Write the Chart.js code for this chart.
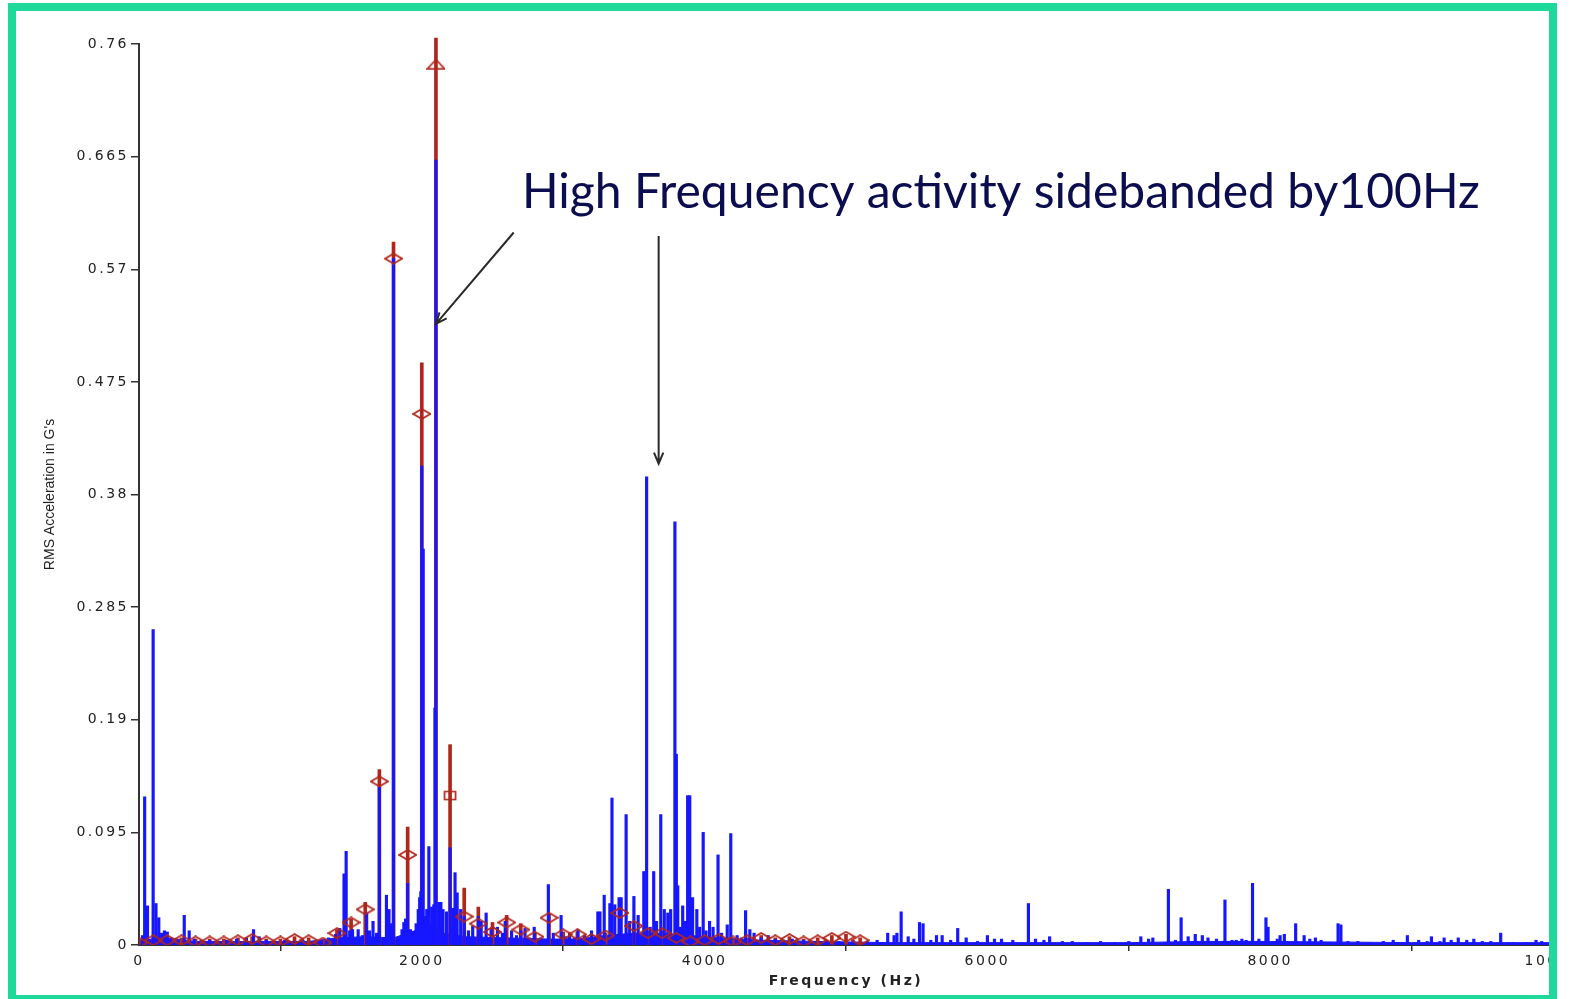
<!DOCTYPE html>
<html>
<head>
<meta charset="utf-8">
<title>RMS Acceleration spectrum</title>
<script src="https://cdn.jsdelivr.net/npm/chart.js@4.4.1/dist/chart.umd.min.js"></script>
<style>
    html, body { margin: 0; padding: 0; background: #fff; overflow: hidden; }
    body { width: 1571px; height: 999px; position: relative; }
    #chart { position: absolute; left: 0; top: 0; }
    #frame {
        position: absolute; left: 8px; top: 3px; width: 1549px; height: 1000px;
        box-sizing: border-box; border: 8px solid #1fd99a; pointer-events: none;
    }
    #rightMask { position: absolute; left: 1557px; top: 0; width: 20px; height: 999px; background: #fff; }
</style>
</head>
<body>
<canvas id="chart" width="1620" height="999"></canvas>
<div id="rightMask"></div>
<div id="frame"></div>
<script>
// axis ticks
const yTicks = [0, 0.095, 0.19, 0.285, 0.38, 0.475, 0.57, 0.665, 0.76];
const yTickLabels = ["0", "0.095", "0.19", "0.285", "0.38", "0.475", "0.57", "0.665", "0.76"];
const xTicks = [0, 2000, 4000, 6000, 8000, 10000];
const xTickLabels = ["0", "2000", "4000", "6000", "8000", "10000"];

// blue spectrum lines (Hz, G rms)
const blueFreqs = [
    25, 40, 60, 100, 120, 140, 160, 180, 200, 230, 260, 320, 355, 390, 440, 500, 560, 620, 690, 760,
    810, 850, 900, 960, 1030, 1090, 1160, 1230, 1290, 1340, 1390, 1420, 1450, 1465, 1490, 1510, 1550, 1580, 1610, 1630,
    1655, 1680, 1700, 1750, 1768, 1785, 1800, 1840, 1860, 1873, 1885, 1900, 1920, 1960, 1975, 1985, 1993, 2000, 2010, 2020,
    2035, 2050, 2070, 2085, 2093, 2100, 2120, 2135, 2150, 2175, 2200, 2220, 2235, 2250, 2275, 2300, 2330, 2360, 2400, 2420,
    2455, 2490, 2535, 2570, 2590, 2635, 2670, 2700, 2730, 2760, 2795, 2840, 2895, 2930, 2985, 3020, 3045, 3080, 3105, 3150,
    3200, 3245, 3260, 3290, 3330, 3345, 3365, 3395, 3410, 3445, 3470, 3500, 3530, 3570, 3590, 3615, 3640, 3660, 3690, 3715,
    3740, 3760, 3790, 3800, 3810, 3830, 3845, 3865, 3880, 3895, 3915, 3945, 3965, 3990, 4010, 4035, 4060, 4095, 4120, 4160,
    4185, 4230, 4260, 4290, 4320, 4350, 4400, 4450, 4500, 4560, 4620, 4700, 4780, 4860, 4950, 5050, 5150, 5220, 5295, 5340,
    5360, 5390, 5440, 5480, 5520, 5545, 5600, 5640, 5680, 5740, 5790, 5850, 5930, 6000, 6050, 6100, 6180, 6290, 6340, 6400,
    6440, 6530, 6600, 6700, 6800, 6900, 7000, 7085, 7140, 7170, 7280, 7330, 7370, 7420, 7470, 7520, 7560, 7620, 7680, 7730,
    7760, 7800, 7830, 7875, 7920, 7970, 7985, 8050, 8070, 8100, 8180, 8240, 8280, 8320, 8360, 8480, 8500, 8550, 8620, 8700,
    8800, 8870, 8970, 9050, 9110, 9140, 9200, 9230, 9280, 9330, 9390, 9440, 9500, 9560, 9630, 9690, 9720, 9810, 9880, 9920
];
const blueAmps = [
    0.008, 0.125, 0.033, 0.266, 0.035, 0.023, 0.010, 0.012, 0.011, 0.006, 0.005, 0.025, 0.012, 0.005, 0.004, 0.004, 0.003, 0.004, 0.005, 0.006,
    0.013, 0.007, 0.004, 0.003, 0.004, 0.003, 0.004, 0.003, 0.004, 0.006, 0.009, 0.014, 0.060, 0.079, 0.012, 0.013, 0.013, 0.008, 0.027, 0.012,
    0.020, 0.010, 0.133, 0.042, 0.030, 0.018, 0.579, 0.004, 0.013, 0.019, 0.022, 0.052, 0.013, 0.018, 0.030, 0.040, 0.045, 0.404, 0.334, 0.024,
    0.030, 0.083, 0.032, 0.034, 0.200, 0.662, 0.036, 0.036, 0.030, 0.028, 0.082, 0.031, 0.061, 0.044, 0.030, 0.024, 0.012, 0.016, 0.024, 0.020,
    0.027, 0.013, 0.015, 0.010, 0.020, 0.012, 0.008, 0.012, 0.014, 0.006, 0.015, 0.006, 0.051, 0.010, 0.025, 0.007, 0.010, 0.006, 0.013, 0.008,
    0.012, 0.028, 0.028, 0.042, 0.035, 0.124, 0.034, 0.040, 0.040, 0.110, 0.020, 0.041, 0.025, 0.062, 0.395, 0.015, 0.062, 0.020, 0.110, 0.030,
    0.027, 0.030, 0.357, 0.161, 0.050, 0.015, 0.033, 0.020, 0.126, 0.126, 0.040, 0.030, 0.015, 0.095, 0.012, 0.020, 0.015, 0.076, 0.010, 0.017,
    0.094, 0.008, 0.006, 0.029, 0.013, 0.010, 0.006, 0.008, 0.005, 0.004, 0.005, 0.004, 0.003, 0.004, 0.003, 0.004, 0.003, 0.004, 0.010, 0.008,
    0.010, 0.028, 0.007, 0.005, 0.019, 0.018, 0.004, 0.008, 0.008, 0.004, 0.014, 0.006, 0.003, 0.008, 0.005, 0.005, 0.004, 0.035, 0.005, 0.004,
    0.007, 0.003, 0.003, 0.002, 0.003, 0.002, 0.003, 0.007, 0.005, 0.006, 0.047, 0.004, 0.023, 0.007, 0.009, 0.008, 0.006, 0.005, 0.038, 0.004,
    0.004, 0.005, 0.004, 0.052, 0.005, 0.023, 0.015, 0.005, 0.008, 0.009, 0.018, 0.008, 0.005, 0.006, 0.004, 0.018, 0.017, 0.003, 0.003, 0.002,
    0.003, 0.004, 0.008, 0.004, 0.003, 0.007, 0.003, 0.006, 0.004, 0.006, 0.004, 0.005, 0.003, 0.003, 0.010, 0.002, 0.002, 0.002, 0.004, 0.003
];

// broadband floor under the lines
const noiseFreqs = [0, 200, 400, 800, 1200, 1400, 1600, 1800, 1950, 2000, 2100, 2150, 2300, 2600, 2900, 3100, 3300, 3500, 3700, 3900, 4100, 4400, 4800, 5300, 6000, 7000, 7500, 8000, 9000, 10000];
const noiseLevels = [0.004, 0.006, 0.003, 0.003, 0.003, 0.006, 0.007, 0.006, 0.012, 0.020, 0.016, 0.010, 0.007, 0.006, 0.005, 0.005, 0.008, 0.010, 0.010, 0.008, 0.006, 0.004, 0.003, 0.002, 0.002, 0.002, 0.003, 0.003, 0.002, 0.002];

// 100 Hz harmonic cursors: red stem height and marker level
const harmonicFreqs = [
    0, 100, 200, 300, 400, 500, 600, 700, 800, 900, 1000, 1100, 1200, 1300, 1400, 1500, 1600, 1700, 1800, 1900,
    2000, 2100, 2200, 2300, 2400, 2500, 2600, 2700, 2800, 2900, 3000, 3100, 3200, 3300, 3400, 3500, 3600, 3700, 3800, 3900,
    4000, 4100, 4200, 4300, 4400, 4500, 4600, 4700, 4800, 4900, 5000, 5100
];
const harmonicPeak = [
    0.004, 0.006, 0.006, 0.006, 0.005, 0.005, 0.005, 0.006, 0.007, 0.005, 0.005, 0.007, 0.006, 0.004, 0.013, 0.022, 0.036, 0.148, 0.593, 0.0995,
    0.491, 0.765, 0.169, 0.048, 0.032, 0.019, 0.025, 0.018, 0.010, 0.026, 0.011, 0.011, 0.007, 0.010, 0.030, 0.018, 0.012, 0.012, 0.008, 0.005,
    0.006, 0.007, 0.005, 0.006, 0.008, 0.006, 0.007, 0.005, 0.006, 0.008, 0.009, 0.006
];
const harmonicMarker = [
    0.002, 0.004, 0.004, 0.004, 0.003, 0.003, 0.003, 0.004, 0.005, 0.003, 0.003, 0.005, 0.004, 0.002, 0.010, 0.019, 0.030, 0.138, 0.579, 0.076,
    0.448, 0.743, 0.126, 0.024, 0.018, 0.011, 0.019, 0.013, 0.007, 0.023, 0.009, 0.009, 0.005, 0.008, 0.027, 0.016, 0.010, 0.010, 0.006, 0.003,
    0.004, 0.005, 0.003, 0.004, 0.006, 0.004, 0.005, 0.003, 0.004, 0.006, 0.007, 0.004
];

const BLUE = "#1616ff";
const RED = "#b0261c";

function markerCanvas(w, h, draw) {
    const c = document.createElement("canvas");
    c.width = w; c.height = h;
    const g = c.getContext("2d");
    g.strokeStyle = RED;
    g.lineWidth = 1.7;
    g.beginPath();
    draw(g, w, h);
    g.closePath();
    g.stroke();
    return c;
}
const diamond = markerCanvas(19, 12, (g, w, h) => {
    g.moveTo(1, h / 2); g.lineTo(w / 2, 1); g.lineTo(w - 1, h / 2); g.lineTo(w / 2, h - 1);
});
const triangle = markerCanvas(19, 11, (g, w, h) => {
    g.moveTo(1, h - 1); g.lineTo(w / 2, 1); g.lineTo(w - 1, h - 1);
});
const square = markerCanvas(14, 11, (g, w, h) => {
    g.rect(1.5, 1.5, w - 3, h - 3);
});

// wide tick text like the original export; the y title stays unspaced
const spacing = {
    id: "spacing",
    beforeLayout(chart) { chart.ctx.letterSpacing = "2.5px"; },
    afterLayout(chart) {
        const y = chart.scales.y;
        if (y && !y._patched) {
            const orig = y.drawTitle;
            y.drawTitle = function () {
                this.ctx.save();
                this.ctx.letterSpacing = "0px";
                orig.call(this);
                this.ctx.restore();
            };
            y._patched = true;
        }
    },
    beforeDraw(chart) { chart.ctx.letterSpacing = "2.5px"; },
};

// annotation arrows and caption
const annotate = {
    id: "annotate",
    afterDraw(chart) {
        const ctx = chart.ctx;
        const xs = chart.scales.x, ys = chart.scales.y;
        const arrows = [
            [2650, 0.601, 2100, 0.524],
            [3675, 0.598, 3675, 0.406],
        ];
        ctx.save();
        ctx.letterSpacing = "0px";
        ctx.strokeStyle = "#2a2a2a";
        ctx.lineWidth = 2;
        arrows.forEach(([fx, fy, tx, ty]) => {
            const x1 = xs.getPixelForValue(fx), y1 = ys.getPixelForValue(fy);
            const x2 = xs.getPixelForValue(tx), y2 = ys.getPixelForValue(ty);
            const a = Math.atan2(y2 - y1, x2 - x1);
            ctx.beginPath();
            ctx.moveTo(x1, y1);
            ctx.lineTo(x2, y2);
            ctx.moveTo(x2 - 12 * Math.cos(a - 0.4), y2 - 12 * Math.sin(a - 0.4));
            ctx.lineTo(x2, y2);
            ctx.lineTo(x2 - 12 * Math.cos(a + 0.4), y2 - 12 * Math.sin(a + 0.4));
            ctx.stroke();
        });
        const caption = "High Frequency activity sidebanded by100Hz";
        let size = 50;
        ctx.font = size + "px Lato, 'Open Sans', sans-serif";
        size = size * 958 / ctx.measureText(caption).width;
        ctx.font = size + "px Lato, 'Open Sans', sans-serif";
        ctx.fillStyle = "#0b0d4e";
        ctx.textBaseline = "alphabetic";
        ctx.fillText(caption, 522, 208);
        ctx.restore();
    },
};

const ctx = document.getElementById("chart").getContext("2d");
new Chart(ctx, {
    type: "bar",
    data: {
        datasets: [
            {
                type: "line",
                data: noiseFreqs.map((f, i) => ({ x: f, y: noiseLevels[i] })),
                borderColor: BLUE,
                backgroundColor: BLUE,
                borderWidth: 1,
                pointRadius: 0,
                fill: "origin",
                order: 4,
            },
            {
                data: harmonicFreqs.map((f, i) => ({ x: f, y: harmonicPeak[i] })),
                backgroundColor: RED,
                barThickness: 3,
                grouped: false,
                clip: { left: 0, top: 12, right: 0, bottom: 0 },
                order: 3,
            },
            {
                data: blueFreqs.map((f, i) => ({ x: f, y: blueAmps[i] })),
                backgroundColor: BLUE,
                barThickness: 2.5,
                grouped: false,
                order: 2,
            },
            {
                type: "line",
                data: harmonicFreqs.map((f, i) => ({ x: f, y: harmonicMarker[i] })),
                showLine: false,
                pointStyle: (c) => {
                    const f = harmonicFreqs[c.dataIndex];
                    if (f === 2100) return triangle;
                    if (f === 2200) return square;
                    return diamond;
                },
                order: 1,
            },
        ],
    },
    options: {
        responsive: false,
        animation: false,
        layout: { padding: { top: 44, right: 67, left: 0, bottom: 0 } },
        plugins: { legend: { display: false }, tooltip: { enabled: false } },
        scales: {
            x: {
                type: "linear",
                min: 0,
                max: 10000,
                offset: false,
                afterBuildTicks: (s) => { s.ticks = xTicks.map((v) => ({ value: v })); },
                afterFit: (s) => { s.height = 54; },
                grid: { drawOnChartArea: false, drawTicks: true, tickLength: 6, color: "#333", lineWidth: 1.5 },
                border: { display: true, color: "#333", width: 2 },
                ticks: {
                    autoSkip: false,
                    maxRotation: 0,
                    padding: 2,
                    color: "#222",
                    font: { family: "'DejaVu Sans', sans-serif", size: 14 },
                    callback: (v, i) => xTickLabels[i],
                },
                title: {
                    display: true,
                    text: "Frequency (Hz)",
                    color: "#222",
                    font: { family: "'DejaVu Sans', sans-serif", size: 14, weight: "bold" },
                    padding: { top: 0, bottom: 9 },
                },
            },
            y: {
                min: 0,
                max: 0.76,
                afterBuildTicks: (s) => { s.ticks = yTicks.map((v) => ({ value: v })); },
                afterFit: (s) => { s.width = 139; },
                grid: { drawOnChartArea: false, drawTicks: true, tickLength: 8, color: "#333", lineWidth: 1.5 },
                border: { display: true, color: "#333", width: 2 },
                ticks: {
                    autoSkip: false,
                    padding: 2,
                    color: "#222",
                    font: { family: "'DejaVu Sans', sans-serif", size: 14 },
                    callback: (v, i) => yTickLabels[i],
                },
                title: {
                    display: true,
                    text: "RMS Acceleration in G's",
                    color: "#222",
                    font: { family: "'Liberation Sans', Arial, sans-serif", size: 14 },
                    padding: { top: 42, bottom: 0 },
                },
            },
        },
    },
    plugins: [spacing, annotate],
});
</script>
</body>
</html>
